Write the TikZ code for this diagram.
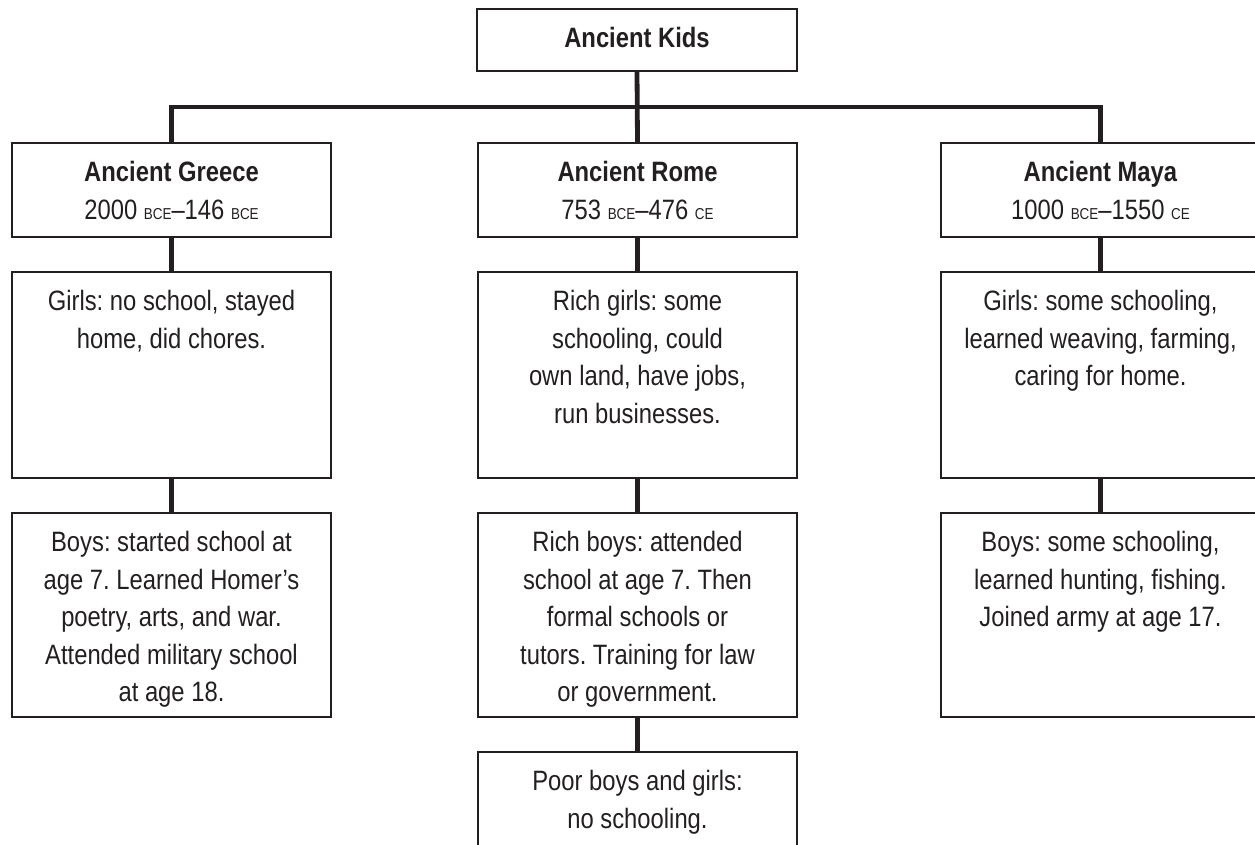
\documentclass[tikz,border=0pt]{standalone}
\usepackage{fontspec}
\setmainfont{Liberation Sans}[FakeStretch=0.85]
\definecolor{ink}{HTML}{231F20}
\frenchspacing

% box body: fixed width and height, text hung from the top edge
\newcommand\celltext[3]{\parbox[c][#2][t]{#1}{\centering\rule{0pt}{38.5pt}#3\par}}
% era abbreviations set in small capitals
\newcommand\era[1]{{\fontsize{15.8}{15.8}\selectfont #1}}

\begin{document}
\begin{tikzpicture}[x=1pt,y=-1pt,
  cell/.style={draw=ink,text=ink,line width=2.3pt,inner sep=0pt,outer sep=0pt,
    anchor=north west,font=\fontsize{28}{37.5}\selectfont},
  conn/.style={draw=ink,line width=4.8pt,line join=miter,line cap=butt}]
\useasboundingbox (0,0) rectangle (1255,844);
\clip (0,0) rectangle (1255,844);

% root
\node[cell] (top) at (477,9) {\celltext{320pt}{62pt}{\bfseries Ancient Kids}};

% civilisation headers
\node[cell] (gh) at (12,143) {\celltext{319pt}{94pt}{\textbf{Ancient Greece}\\2000 \era{BCE}--146 \era{BCE}}};
\node[cell] (rh) at (478,143) {\celltext{319pt}{94pt}{\textbf{Ancient Rome}\\753 \era{BCE}--476 \era{CE}}};
\node[cell] (mh) at (941,143) {\celltext{319pt}{94pt}{\textbf{Ancient Maya}\\1000 \era{BCE}--1550 \era{CE}}};

% girls
\node[cell] (gg) at (12,272) {\celltext{319pt}{206pt}{Girls: no school, stayed\\home, did chores.}};
\node[cell] (rg) at (478,272) {\celltext{319pt}{206pt}{Rich girls: some\\schooling, could\\own land, have jobs,\\run businesses.}};
\node[cell] (mg) at (941,272) {\celltext{319pt}{206pt}{Girls: some schooling,\\learned weaving, farming,\\caring for home.}};

% boys
\node[cell] (gb) at (12,513) {\celltext{319pt}{204pt}{Boys: started school at\\age 7. Learned Homer’s\\poetry, arts, and war.\\Attended military school\\at age 18.}};
\node[cell] (rb) at (478,513) {\celltext{319pt}{204pt}{Rich boys: attended\\school at age 7. Then\\formal schools or\\tutors. Training for law\\or government.}};
\node[cell] (mb) at (941,513) {\celltext{319pt}{204pt}{Boys: some schooling,\\learned hunting, fishing.\\Joined army at age 17.}};

% poor children (runs past the lower edge)
\node[cell] (rp) at (478,752) {\celltext{319pt}{130pt}{Poor boys and girls:\\no schooling.}};

% connectors
\coordinate (bus) at (637,107);
\draw[conn] (top.south) -- (rh.north);
\draw[conn] (gh.north) |- (bus) -| (mh.north);
\draw[conn] (gh.south) -- (gg.north);
\draw[conn] (rh.south) -- (rg.north);
\draw[conn] (mh.south) -- (mg.north);
\draw[conn] (gg.south) -- (gb.north);
\draw[conn] (rg.south) -- (rb.north);
\draw[conn] (mg.south) -- (mb.north);
\draw[conn] (rb.south) -- (rp.north);
\end{tikzpicture}
\end{document}
